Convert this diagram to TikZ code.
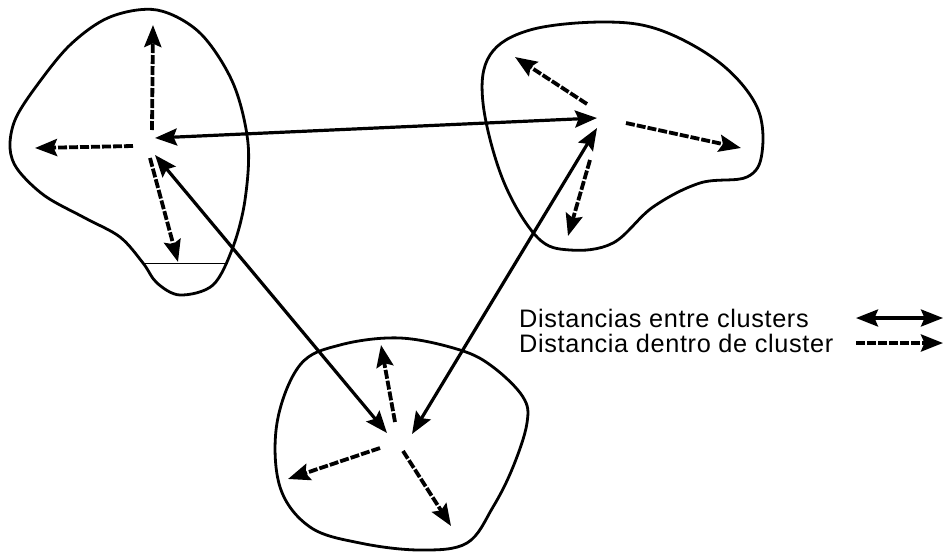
\documentclass[tikz,border=0pt]{standalone}
\usepackage{fontspec}
\setmainfont{Liberation Sans}
\newfontfamily\legfont[LetterSpace=2.5]{Liberation Sans}
\usetikzlibrary{arrows.meta}
\begin{document}
\begin{tikzpicture}[x=1pt,y=-1pt,
  outline/.style={line width=2.8pt, black},
  tip/.tip={Stealth[length=22pt,width=17pt,inset=3.5pt]},
  between/.style={line width=3.2pt, {tip}-{tip}},
  within/.style={line width=3.8pt, dash pattern=on 9pt off 2pt, -{tip}},
  legtext/.style={anchor=base west, font=\legfont\fontsize{25.3}{27}\selectfont, inner sep=0pt}]
\useasboundingbox (0,0) rectangle (945,555);
% cluster outlines
\draw[outline] plot[smooth cycle, tension=0.55] coordinates {
  (157,10) (200,33) (233,83) (248,143) (245,200) (233,247) (213,285) (180,295)
  (157,283) (143,263) (120,237) (85,218) (45,196) (18,170) (10,148) (15,120)
  (35,88) (70,45) (110,17)};
\draw[line width=1pt] (143,263) -- (227,263);
\draw[outline] plot[smooth cycle, tension=0.6] coordinates {
  (603,22) (660,30) (720,63) (757,107) (762,153) (747,177) (700,183)
  (653,207) (613,243) (570,250) (537,237) (503,180) (483,103) (490,55) (530,30)};
\draw[outline] plot[smooth cycle, tension=0.6] coordinates {
  (400,338) (460,350) (493,367) (523,397) (527,423) (513,467) (493,507)
  (467,543) (420,550) (360,543) (310,527) (280,487) (277,423) (300,365) (340,345)};
% centre points
\coordinate (c1a) at (155,138);
\coordinate (c1b) at (155,155);
\coordinate (c2a) at (597,118);
\coordinate (c2b) at (597,128);
\coordinate (c3a) at (387,433);
\coordinate (c3b) at (412,434);
% between-cluster arrows
\draw[between] (c1a) -- (c2a);
\draw[between] (c1b) -- (c3a);
\draw[between] (c2b) -- (c3b);
% within-cluster arrows, cluster 1
\coordinate (a1s) at (152,130); \coordinate (a1e) at (153,25);
\coordinate (b1s) at (133,146); \coordinate (b1e) at (35,148);
\coordinate (d1s) at (150,158); \coordinate (d1e) at (178,262);
\draw[within] (a1s) -- (a1e);
\draw[within] (b1s) -- (b1e);
\draw[within] (d1s) -- (d1e);
% cluster 2
\coordinate (a2s) at (587,104); \coordinate (a2e) at (515,57);
\coordinate (b2s) at (626,123); \coordinate (b2e) at (741,148);
\coordinate (d2s) at (590,160); \coordinate (d2e) at (568,236);
\draw[within] (a2s) -- (a2e);
\draw[within] (b2s) -- (b2e);
\draw[within] (d2s) -- (d2e);
% cluster 3
\coordinate (a3s) at (395,422); \coordinate (a3e) at (381,345);
\coordinate (b3s) at (380,448); \coordinate (b3e) at (288,479);
\coordinate (d3s) at (403,451); \coordinate (d3e) at (451,526);
\draw[within] (a3s) -- (a3e);
\draw[within] (b3s) -- (b3e);
\draw[within] (d3s) -- (d3e);
% legend
\node[legtext] (l1) at (519,327) {Distancias entre clusters};
\node[legtext] (l2) at (519,352) {Distancia dentro de cluster};
\coordinate (g1s) at (856,318); \coordinate (g1e) at (943,318);
\coordinate (g2s) at (856,343); \coordinate (g2e) at (943,343);
\draw[between] (g1s) -- (g1e);
\draw[within] (g2s) -- (g2e);
\end{tikzpicture}
\end{document}
